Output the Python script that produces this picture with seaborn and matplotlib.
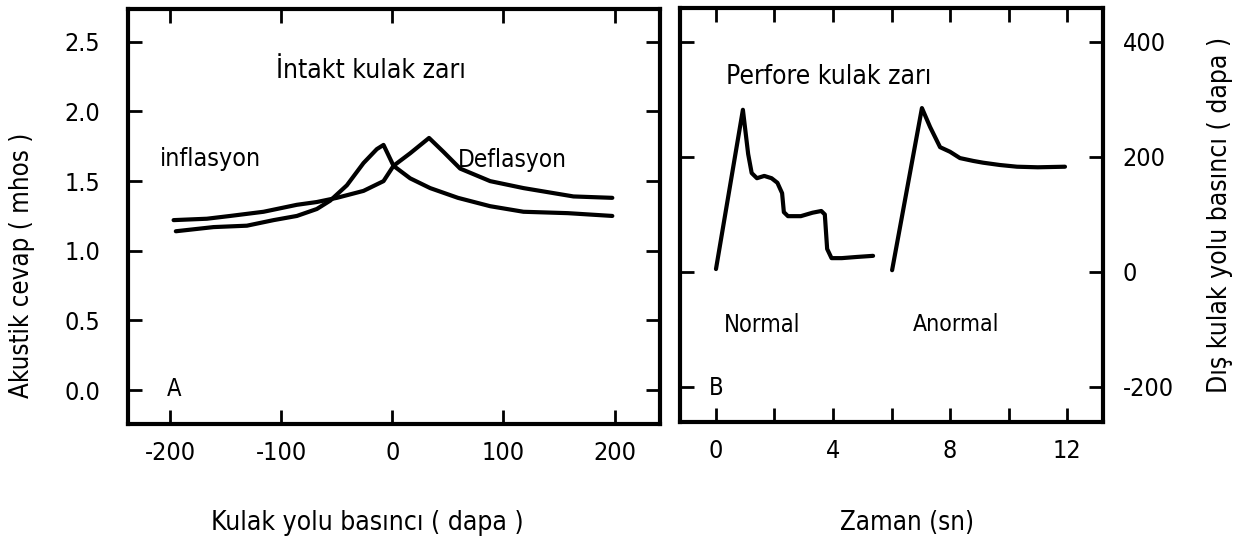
import matplotlib
matplotlib.use("Agg")
import matplotlib.pyplot as plt
import seaborn as sns

# --- veriler ---
# A: intakt kulak zari, akustik cevap (mhos) vs kulak yolu basinci (dapa)
inf_x = [-195, -161, -131, -107, -86, -68, -56, -41, -26, -14, -8, 1, 16, 34, 59, 88, 118, 158, 198]
inf_y = [1.14, 1.17, 1.18, 1.22, 1.25, 1.30, 1.36, 1.47, 1.63, 1.73, 1.76, 1.61, 1.52, 1.45, 1.38, 1.32, 1.28, 1.27, 1.25]
def_x = [-197, -167, -146, -116, -86, -68, -50, -26, -8, 1, 16, 33, 46, 61, 88, 118, 163, 198]
def_y = [1.22, 1.23, 1.25, 1.28, 1.33, 1.35, 1.38, 1.43, 1.50, 1.61, 1.70, 1.81, 1.71, 1.59, 1.50, 1.45, 1.39, 1.38]

# B: perfore kulak zari, dis kulak yolu basinci (dapa) vs zaman (sn)
norm_x = [0.0, 0.92, 1.10, 1.22, 1.40, 1.65, 1.90, 2.10, 2.26, 2.32, 2.46, 2.90, 3.30, 3.60, 3.72, 3.80, 3.95, 4.30, 4.80, 5.37]
norm_y = [5, 282, 205, 172, 163, 167, 163, 155, 137, 104, 97, 97, 103, 106, 100, 40, 24, 24, 26, 28]
anor_x = [6.02, 7.04, 7.32, 7.66, 8.0, 8.34, 8.8, 9.13, 9.7, 10.29, 11.0, 11.93]
anor_y = [3, 285, 252, 217, 209, 198, 193, 190, 186, 183, 182, 183]

a_xticks = [-200, -100, 0, 100, 200]
a_yticks = [0.0, 0.5, 1.0, 1.5, 2.0, 2.5]
a_ytick_labels = ["0.0", "0.5", "1.0", "1.5", "2.0", "2.5"]
b_xticks = [0, 2, 4, 6, 8, 10, 12]
b_xtick_labels = ["0", "", "4", "", "8", "", "12"]
b_yticks = [-200, 0, 200, 400]

sns.set_style("ticks")
plt.rcParams["font.family"] = ["DejaVu Sans"]
plt.rcParams["font.stretch"] = "condensed"
plt.rcParams["axes.unicode_minus"] = False
for k in ("text.color", "axes.labelcolor", "xtick.color", "ytick.color"):
    plt.rcParams[k] = "black"

fig = plt.figure(figsize=(12.53, 5.42), dpi=100)
ax1 = fig.add_axes([0.1022, 0.2177, 0.4246, 0.7657])
ax2 = fig.add_axes([0.5427, 0.2214, 0.3376, 0.7638])

line_kw = dict(color="black", lw=3, sort=False, estimator=None, solid_joinstyle="round", solid_capstyle="round")

# panel A
sns.lineplot(x=inf_x, y=inf_y, ax=ax1, **line_kw)
sns.lineplot(x=def_x, y=def_y, ax=ax1, **line_kw)
ax1.set_xlim(-238, 241)
ax1.set_ylim(-0.244, 2.736)
ax1.set_xticks(a_xticks)
ax1.set_yticks(a_yticks)
ax1.set_yticklabels(a_ytick_labels)
ax1.tick_params(direction="in", length=10, width=2, top=True, right=True, labelsize=18)
ax1.tick_params(axis="y", pad=20)
ax1.tick_params(axis="x", pad=12)
ax1.text(-105, 2.29, "İntakt kulak zarı", fontsize=19, va="center")
ax1.text(-209, 1.66, "inflasyon", fontsize=18, va="center")
ax1.text(59, 1.65, "Deflasyon", fontsize=17.5, va="center")
ax1.text(-197, 0.01, "A", fontsize=17, va="center", ha="center")
ax1.set_xlabel("Kulak yolu basıncı ( dapa )", fontsize=19)
ax1.xaxis.set_label_coords(0.449, -0.239)
ax1.xaxis.label.set_va("center")
ax1.set_ylabel("Akustik cevap ( mhos )", fontsize=18.5)
ax1.yaxis.set_label_coords(-0.199, 0.383)
ax1.yaxis.label.set_va("center")

# panel B
sns.lineplot(x=norm_x, y=norm_y, ax=ax2, **line_kw)
sns.lineplot(x=anor_x, y=anor_y, ax=ax2, **line_kw)
ax2.set_xlim(-1.23, 13.23)
ax2.set_ylim(-261, 459)
ax2.set_xticks(b_xticks)
ax2.set_xticklabels(b_xtick_labels)
ax2.set_yticks(b_yticks)
ax2.yaxis.tick_right()
ax2.tick_params(direction="in", length=10, width=2, top=True, left=True, right=True,
                labelleft=False, labelright=True, labelsize=18)
ax2.tick_params(axis="y", pad=14)
ax2.tick_params(axis="x", pad=12)
ax2.text(0.34, 339, "Perfore kulak zarı", fontsize=19, va="center")
ax2.text(0.27, -92, "Normal", fontsize=17, va="center")
ax2.text(6.73, -92, "Anormal", fontsize=16.5, va="center")
ax2.text(0.0, -202, "B", fontsize=17, va="center", ha="center")
ax2.set_xlabel("Zaman (sn)", fontsize=18.5)
ax2.xaxis.set_label_coords(0.537, -0.245)
ax2.xaxis.label.set_va("center")
ax2.yaxis.set_label_position("right")
ax2.set_ylabel("Dış kulak yolu basıncı ( dapa )", fontsize=19)
ax2.yaxis.set_label_coords(1.277, 0.5)
ax2.yaxis.label.set_va("center")

for ax in (ax1, ax2):
    for s in ax.spines.values():
        s.set_visible(True)
        s.set_linewidth(3)
        s.set_color("black")

fig.savefig("out.png", dpi=100, facecolor="white")
